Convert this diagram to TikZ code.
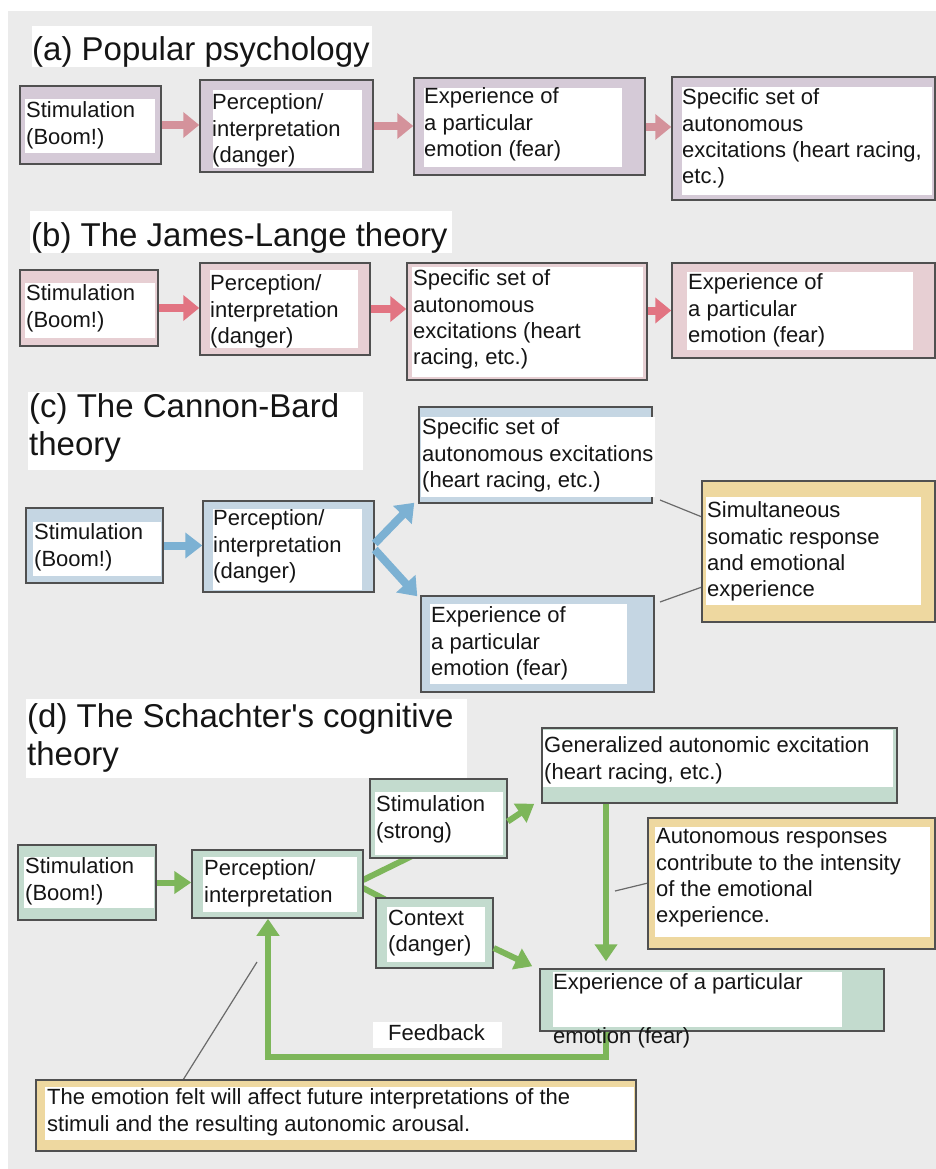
\documentclass[tikz,border=0pt]{standalone}
\usepackage{fontspec}
\setmainfont{Liberation Sans}
\usetikzlibrary{arrows.meta,fit,calc}
\definecolor{bg}{HTML}{EBEBEB}
\definecolor{fa}{HTML}{D5CAD7}
\definecolor{fb}{HTML}{E7CFD3}
\definecolor{fc}{HTML}{C5D6E3}
\definecolor{fd}{HTML}{C3DBCE}
\definecolor{fy}{HTML}{EED8A0}
\definecolor{arrA}{HTML}{D4929B}
\definecolor{arrB}{HTML}{E27482}
\definecolor{arrC}{HTML}{7CB1D3}
\definecolor{arrD}{HTML}{7DB65A}
\definecolor{bordc}{HTML}{505050}
\definecolor{txtc}{HTML}{151515}
\tikzset{
  box/.style={draw=bordc, line width=1.5pt, inner sep=0pt},
  txt/.style={anchor=north west, inner sep=0pt, align=left, text=txtc,
    font=\fontsize{22}{26.3}\selectfont, yshift=18.41pt, execute at begin node=\strut},
  ttl/.style={anchor=north west, inner sep=0pt, align=left, text=txtc,
    font=\fontsize{33}{37.5}\selectfont, yshift=26.25pt, execute at begin node=\strut},
  arA/.style={line width=8pt, draw=arrA, -{Triangle[width=25pt,length=16pt]}},
  arB/.style={line width=8pt, draw=arrB, -{Triangle[width=25pt,length=16pt]}},
  arC/.style={line width=8pt, draw=arrC, -{Triangle[width=25pt,length=17pt]}},
  arD/.style={line width=6pt, draw=arrD, -{Triangle[width=22pt,length=17pt]}},
  lnD/.style={line width=6pt, draw=arrD},
  ptr/.style={line width=1.2pt, draw=bordc!85},
}
\begin{document}
\begin{tikzpicture}[x=1pt,y=-1pt]
\useasboundingbox (0,0) rectangle (936,1169);
\fill[white] (0,0) rectangle (936,1169);
\fill[bg] (8,11) rectangle (936,1169);

% ---------------- (a) Popular psychology
\fill[white] (32,26) rectangle (372,67);
\node[ttl] (ta) at (32,60) {(a) Popular psychology};
\node[box, fill=fa, fit={(20,86) (161,164)}] (a1) {};
\node[box, fill=fa, fit={(200,80) (373,172)}] (a2) {};
\node[box, fill=fa, fit={(414,78) (645,175)}] (a3) {};
\node[box, fill=fa, fit={(672,77) (935,200)}] (a4) {};
\fill[white] (25,99) rectangle (155,153);
\fill[white] (213,90) rectangle (362,168);
\fill[white] (424,88) rectangle (622,167);
\fill[white] (682,87) rectangle (932,195);
\node[txt] (a1t) at (26,120) {Stimulation\\(Boom!)};
\node[txt] (a2t) at (212,112) {Perception/\\interpretation\\(danger)};
\node[txt] (a3t) at (424,106) {Experience of\\a particular\\emotion (fear)};
\node[txt] (a4t) at (682,107) {Specific set of\\autonomous\\excitations (heart racing,\\etc.)};
\draw[arA] (a1.east) -- (a1.east -| a2.west);
\draw[arA] (a2.east) -- (a2.east -| a3.west);
\draw[arA] ($(a3.east)+(0,0.5)$) -- ($(a3.east -| a4.west)+(0,0.5)$);

% ---------------- (b) James-Lange
\fill[white] (30,211) rectangle (452,253);
\node[ttl] (tb) at (31,246) {(b) The James-Lange theory};
\node[box, fill=fb, fit={(20,270) (158,346)}] (b1) {};
\node[box, fill=fb, fit={(200,263) (370,355)}] (b2) {};
\node[box, fill=fb, fit={(407,263) (647,380)}] (b3) {};
\node[box, fill=fb, fit={(672,263) (935,358)}] (b4) {};
\fill[white] (25,283) rectangle (155,338);
\fill[white] (210,270) rectangle (358,348);
\fill[white] (412,267) rectangle (643,377);
\fill[white] (687,272) rectangle (913,350);
\node[txt] (b1t) at (26,303) {Stimulation\\(Boom!)};
\node[txt] (b2t) at (210,293) {Perception/\\interpretation\\(danger)};
\node[txt] (b3t) at (413,288) {Specific set of\\autonomous\\excitations (heart\\racing, etc.)};
\node[txt] (b4t) at (688,292) {Experience of\\a particular\\emotion (fear)};
\draw[arB] (b1.east) -- (b1.east -| b2.west);
\draw[arB] (b2.east) -- (b2.east -| b3.west);
\draw[arB] (b4.west -| b3.east) -- (b4.west);

% ---------------- (c) Cannon-Bard
\fill[white] (28,392) rectangle (363,470);
\node[ttl] (tc) at (29,420) {(c) The Cannon-Bard\\theory};
\draw[ptr] (702,517) coordinate (c5a) -- (660,500) coordinate (c3p);
\draw[ptr] (702,587) coordinate (c5b) -- (660,602) coordinate (c4p);
\node[box, fill=fc, fit={(26,508) (163,583)}] (c1) {};
\node[box, fill=fc, fit={(203,501) (374,592)}] (c2) {};
\node[box, fill=fc, fit={(419,407) (652,503)}] (c3) {};
\node[box, fill=fc, fit={(421,596) (654,692)}] (c4) {};
\node[box, fill=fy, fit={(702,481) (935,622)}] (c5) {};
\fill[white] (33,522) rectangle (161,576);
\fill[white] (213,509) rectangle (362,590);
\fill[white] (421,417) rectangle (655,497);
\fill[white] (430,604) rectangle (627,684);
\fill[white] (706,497) rectangle (921,605);
\node[txt] (c1t) at (34,542) {Stimulation\\(Boom!)};
\node[txt] (c2t) at (213,528) {Perception/\\interpretation\\(danger)};
\node[txt] (c3t) at (422,437) {Specific set of\\autonomous excitations\\(heart racing, etc.)};
\node[txt] (c4t) at (431,625) {Experience of\\a particular\\emotion (fear)};
\node[txt] (c5t) at (707,520) {Simultaneous\\somatic response\\and emotional\\experience};
\draw[arC] (c1.east) -- (c1.east -| c2.west);
\draw[arC] ($(c2.east)+(0,-3)$) -- ($(c3.south west)+(-4,-1)$);
\draw[arC] ($(c2.east)+(0,3)$) -- ($(c4.north west)+(-3,1)$);

% ---------------- (d) Schachter
\fill[white] (26,699) rectangle (467,778);
\node[ttl] (td) at (27,730) {(d) The Schachter\textquotesingle s cognitive\\theory};
\coordinate (fx) at (606,0);
\coordinate (fb) at (268,1057);
\draw[lnD] (363,880) coordinate (d2a) -- (412,856) coordinate (d3a);
\draw[lnD] (363,888) coordinate (d2b) -- (386,900) coordinate (d4a);
\draw[ptr] (648,883) coordinate (d7a) -- (615,891) coordinate (d7p);
\draw[ptr] (183,1080) coordinate (d8a) -- (257,962) coordinate (d8p);
\node[box, fill=fd, fit={(18,845) (156,920)}] (d1) {};
\node[box, fill=fd, fit={(192,850) (363,918)}] (d2) {};
\node[box, fill=fd, fit={(370,779) (507,858)}] (d3) {};
\node[box, fill=fd, fit={(376,898) (493,968)}] (d4) {};
\node[box, fill=fd, fit={(540,969) (884,1031)}] (d5) {};
\node[box, fill=fd, fit={(542,728) (897,803)}] (d6) {};
\node[box, fill=fy, fit={(648,818) (935,949)}] (d7) {};
\node[box, fill=fy, fit={(36,1080) (636,1151)}] (d8) {};
\fill[white] (24,857) rectangle (154,908);
\fill[white] (203,857) rectangle (357,912);
\fill[white] (375,792) rectangle (503,855);
\fill[white] (387,907) rectangle (485,962);
\fill[white] (553,972) rectangle (842,1027);
\fill[white] (543,730) rectangle (893,787);
\fill[white] (655,827) rectangle (930,937);
\fill[white] (45,1087) rectangle (634,1140);
\draw[arD] (d1.east) -- (d1.east -| d2.west);
\draw[arD] ($(d3.east)+(0,3)$) -- ($(d6.south west)+(-7,0)$);
\draw[arD] ($(d4.east)+(0,15)$) -- ($(d5.north west)+(-7,-2)$);
\draw[arD] (fx |- d6.south) -- ($(fx |- d5.north)+(0,-7)$);
\draw[arD, line join=miter] (fx |- d5.south) -- (fx |- fb) -- (fb) -- (fb |- d2.south);
\fill[white] (373,1022) rectangle (502,1048);
\node[txt] (fbt) at (388,1040) {Feedback};
\node[txt] (d1t) at (25,876) {Stimulation\\(Boom!)};
\node[txt] (d2t) at (204,878) {Perception/\\interpretation};
\node[txt] (d3t) at (376,814) {Stimulation\\(strong)};
\node[txt] (d4t) at (388,928) {Context\\(danger)};
\node[txt] (d5t) at (553,992) {Experience of a particular\\[27.7pt]emotion (fear)};
\node[txt] (d6t) at (544,755) {Generalized autonomic excitation\\(heart racing, etc.)};
\node[txt] (d7t) at (656,847) {Autonomous responses\\contribute to the intensity\\of the emotional\\experience.};
\node[txt] (d8t) at (47,1107) {The emotion felt will affect future interpretations of the\\stimuli and the resulting autonomic arousal.};
\end{tikzpicture}
\end{document}
